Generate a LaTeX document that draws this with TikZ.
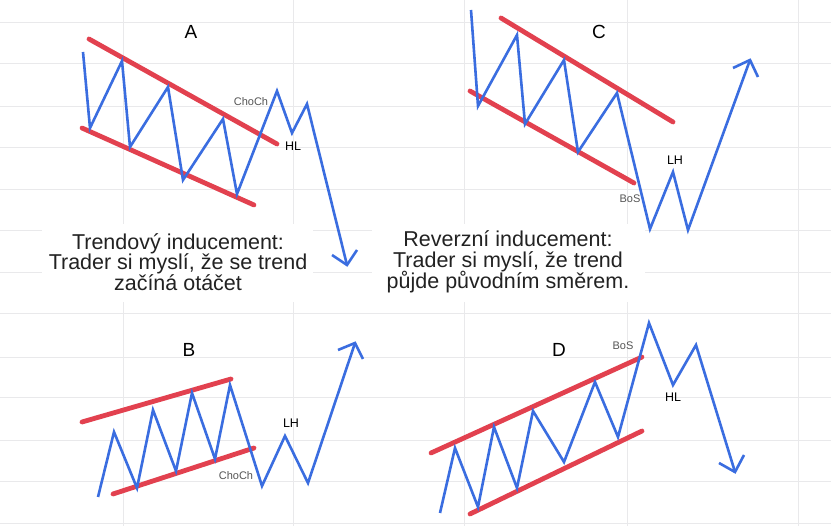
\documentclass[tikz,border=0pt]{standalone}
\usepackage{fontspec}
\setmainfont{Liberation Sans}
\definecolor{gridc}{HTML}{E9E9EB}
\definecolor{chred}{HTML}{E2414F}
\definecolor{chblue}{HTML}{3A6DE0}
\definecolor{lblgray}{HTML}{555555}
\definecolor{txt}{HTML}{222222}
\begin{document}
\begin{tikzpicture}[x=1pt,y=-1pt,
  gridline/.style={draw=gridc,line width=0.9pt},
  channel/.style={draw=chred,line width=4.8pt,line cap=round},
  price/.style={draw=chblue,line width=2.6pt,line join=miter,miter limit=20},
  tip/.style={draw=chblue,line width=2.6pt,line join=miter,miter limit=20},
  panel/.style={font=\fontsize{19}{19}\selectfont,text=black},
  small/.style={font=\fontsize{11}{11}\selectfont,text=lblgray},
  lvl/.style={font=\fontsize{12.5}{12.5}\selectfont,text=black},
  caption/.style={font=\fontsize{21.5}{21.5}\selectfont,text=txt,align=center,inner sep=0pt}]
\useasboundingbox (0,0) rectangle (831,526);
\fill[white] (0,0) rectangle (831,526);
% grid
\foreach \yy in {22,63,106,147,189,230,272,313,357,397,440,481,523}
  \draw[gridline] (0,\yy) -- (831,\yy);
\foreach \xx in {123,293,464,627,798}
  \draw[gridline] (\xx,0) -- (\xx,526);
% white boxes behind captions
\fill[white] (42,224) rectangle (313,302);
\fill[white] (372,224) rectangle (645,302);

% ---------- Panel A ----------
\draw[channel] (89,39) -- (277,144);
\draw[channel] (82,128) -- (254,205);
\draw[price] (83,52) -- (90,128) -- (122,61) -- (130,147) -- (168,87) -- (183,180)
  -- (223,119) -- (237,194) -- (277,91) -- (292,133) -- (307,104) -- (347,265);
\draw[tip] (332,255) -- (347,265) -- (357,250);
\node[panel] (lA) at (191,32) {A};
\node[small] (chA) at (251,102) {ChoCh};
\node[lvl] (hlA) at (293,146) {HL};

% ---------- Panel C ----------
\draw[channel] (501,18) -- (673,122);
\draw[channel] (470,91) -- (634,183);
\draw[price] (471,10) -- (478,106) -- (517,35) -- (525,124) -- (564,60) -- (578,152)
  -- (617,93) -- (650,229) -- (673,172) -- (688,230) -- (750,60);
\draw[tip] (733,68) -- (750,60) -- (758,77);
\node[panel] (lC) at (599,32) {C};
\node[lvl] (lhC) at (675,160) {LH};
\node[small] (bosC) at (630,199) {BoS};

% ---------- Panel B ----------
\draw[channel] (82,422) -- (231,379);
\draw[channel] (113,494) -- (254,448);
\draw[price] (98,497) -- (114,432) -- (137,488) -- (153,410) -- (176,471) -- (192,393)
  -- (215,459) -- (230,385) -- (262,486) -- (285,436) -- (308,483) -- (355,343);
\draw[tip] (338,350) -- (355,343) -- (363,359);
\node[panel] (lB) at (189,350) {B};
\node[lvl] (lhB) at (291,423) {LH};
\node[small] (chB) at (236,476) {ChoCh};

% ---------- Panel D ----------
\draw[channel] (431,453) -- (642,357);
\draw[channel] (470,514) -- (642,431);
\draw[price] (440,513) -- (455,448) -- (478,507) -- (494,427) -- (517,488) -- (533,411)
  -- (564,462) -- (595,382) -- (618,437) -- (649,323) -- (673,385) -- (696,345) -- (735,472);
\draw[tip] (719,463) -- (735,472) -- (744,455);
\node[panel] (lD) at (559,350) {D};
\node[small] (bosD) at (623,346) {BoS};
\node[lvl] (hlD) at (673,397) {HL};

% ---------- captions ----------
\node[caption] (capL) at (178,262) {Trendový inducement:\\[-1pt]Trader si myslí, že se trend\\[-1pt]začíná otáčet};
\node[caption] (capR) at (508,262) {Reverzní inducement:\\[-1pt]Trader si myslí, že trend\\[-1pt]půjde původním směrem.};
\end{tikzpicture}
\end{document}
